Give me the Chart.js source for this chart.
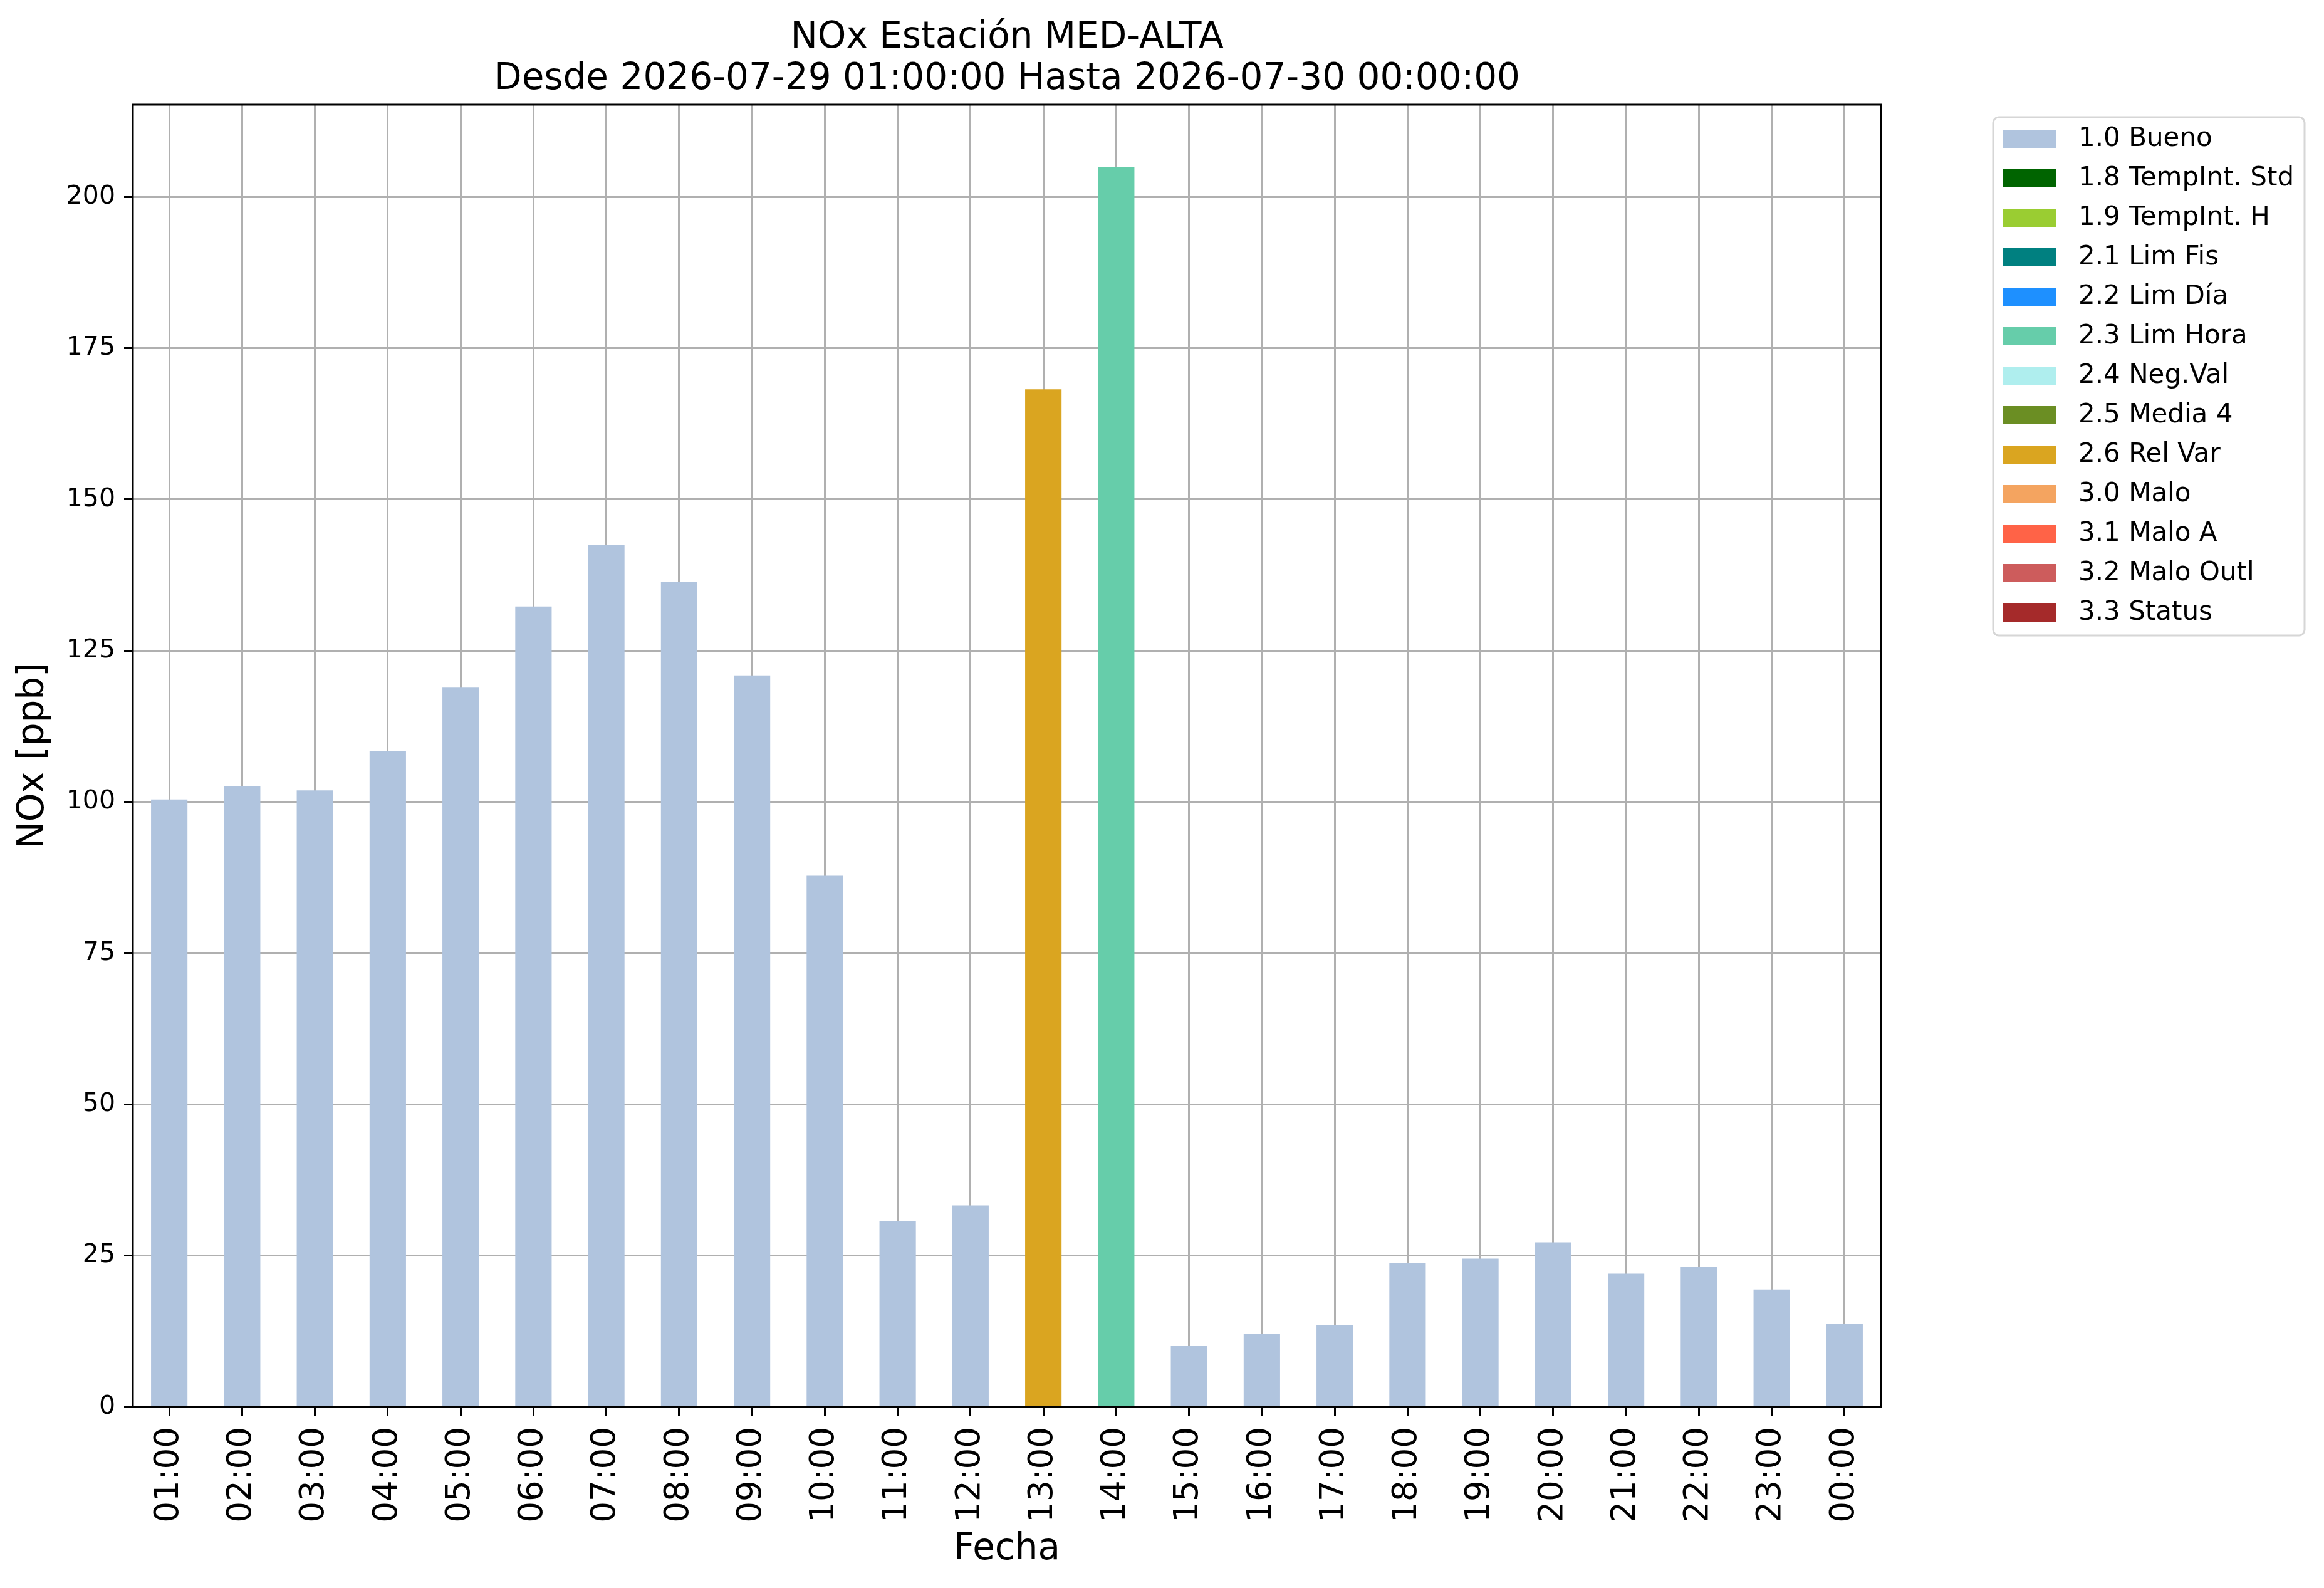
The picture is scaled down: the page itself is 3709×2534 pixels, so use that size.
<!DOCTYPE html>
<html>
<head>
<meta charset="utf-8">
<script src="https://cdn.jsdelivr.net/npm/chart.js@4/dist/chart.umd.min.js"></script>
<style>
  html, body { margin: 0; padding: 0; background: #fff; }
  canvas { display: block; }
</style>
</head>
<body>
<canvas id="grafico" width="3709" height="2534"></canvas>
<script>
// datos del gráfico
const horas = ["01:00", "02:00", "03:00", "04:00", "05:00", "06:00", "07:00", "08:00",
    "09:00", "10:00", "11:00", "12:00", "13:00", "14:00", "15:00", "16:00",
    "17:00", "18:00", "19:00", "20:00", "21:00", "22:00", "23:00", "00:00"];
const valores = [100.4, 102.6, 101.9, 108.4, 118.9, 132.3, 142.5, 136.4,
    120.9, 87.8, 30.7, 33.3, 168.2, 205.0, 10.05, 12.1,
    13.5, 23.8, 24.5, 27.2, 22.0, 23.1, 19.4, 13.7];
const banderas = ["1.0 Bueno", "1.0 Bueno", "1.0 Bueno", "1.0 Bueno", "1.0 Bueno", "1.0 Bueno",
    "1.0 Bueno", "1.0 Bueno", "1.0 Bueno", "1.0 Bueno", "1.0 Bueno", "1.0 Bueno",
    "2.6 Rel Var", "2.3 Lim Hora", "1.0 Bueno", "1.0 Bueno", "1.0 Bueno", "1.0 Bueno",
    "1.0 Bueno", "1.0 Bueno", "1.0 Bueno", "1.0 Bueno", "1.0 Bueno", "1.0 Bueno"];
const categorias = ["1.0 Bueno", "1.8 TempInt. Std", "1.9 TempInt. H", "2.1 Lim Fis",
    "2.2 Lim Día", "2.3 Lim Hora", "2.4 Neg.Val", "2.5 Media 4", "2.6 Rel Var",
    "3.0 Malo", "3.1 Malo A", "3.2 Malo Outl", "3.3 Status"];
const colores = ["#B0C4DE", "#006400", "#9ACD32", "#008080", "#1E90FF", "#66CDAA",
    "#AFEEEE", "#6B8E23", "#DAA520", "#F4A460", "#FF6347", "#CD5C5C", "#A52A2A"];
const ticksY = [0, 25, 50, 75, 100, 125, 150, 175, 200];
const yMax = 215.25;
const titulo = ["NOx Estación MED-ALTA", "Desde 2026-07-29 01:00:00 Hasta 2026-07-30 00:00:00"];

const fuente = "'DejaVu Sans', sans-serif";

const datasets = categorias.map((cat, k) => ({
    label: cat,
    data: valores.map((v, i) => (banderas[i] === cat ? v : null)),
    backgroundColor: colores[k],
    borderWidth: 0,
    barPercentage: 0.5,
    categoryPercentage: 1.0,
}));

// titulo, marco y leyenda dibujados a mano
const extras = {
    id: "extras",
    afterDraw(chart) {
        const ctx = chart.ctx;
        const area = chart.chartArea;
        ctx.save();

        // marco
        ctx.strokeStyle = "#000";
        ctx.lineWidth = 3;
        ctx.strokeRect(area.left, area.top, area.right - area.left, area.bottom - area.top);

        // titulo
        ctx.fillStyle = "#000";
        ctx.font = "58px " + fuente;
        ctx.textAlign = "center";
        ctx.textBaseline = "alphabetic";
        const cx = (area.left + area.right) / 2;
        ctx.fillText(titulo[0], cx, 76);
        ctx.fillText(titulo[1], cx, 142);

        // leyenda
        const lx = area.right + 179;
        const ly = 187;
        const lw = 497;
        const lh = 827;
        ctx.beginPath();
        ctx.roundRect(lx, ly, lw, lh, 9);
        ctx.fillStyle = "#fff";
        ctx.fill();
        ctx.strokeStyle = "#d6d6d6";
        ctx.lineWidth = 3;
        ctx.stroke();

        ctx.font = "42px " + fuente;
        ctx.textAlign = "left";
        ctx.textBaseline = "middle";
        chart.data.datasets.forEach((ds, i) => {
            const yc = ly + 34.5 + i * 63;
            ctx.fillStyle = ds.backgroundColor;
            ctx.fillRect(lx + 16, yc - 14.5, 84, 29);
            ctx.fillStyle = "#000";
            ctx.fillText(ds.label, lx + 136, yc + 1);
        });
        ctx.restore();
    },
};

new Chart(document.getElementById("grafico"), {
    type: "bar",
    data: { labels: horas, datasets: datasets },
    plugins: [extras],
    options: {
        responsive: false,
        animation: false,
        devicePixelRatio: 1,
        layout: { padding: { left: 0, top: 167, right: 707, bottom: 0 } },
        plugins: {
            legend: { display: false },
            title: { display: false },
            tooltip: { enabled: false },
        },
        scales: {
            x: {
                stacked: true,
                z: 1,
                grid: {
                    offset: false,
                    color: "#b0b0b0",
                    lineWidth: 3,
                    tickColor: "#000",
                    tickWidth: 3,
                    tickLength: 14,
                },
                border: { display: false },
                ticks: {
                    color: "#000",
                    font: { family: fuente, size: 53 },
                    minRotation: 90,
                    maxRotation: 90,
                    padding: 18,
                    autoSkip: false,
                },
                title: {
                    display: true,
                    text: "Fecha",
                    color: "#000",
                    font: { family: fuente, size: 58 },
                    padding: { top: 0, bottom: 26 },
                },
                afterFit(scale) {
                    scale.height = 289;
                },
            },
            y: {
                stacked: true,
                z: 1,
                min: 0,
                max: yMax,
                grid: {
                    color: "#b0b0b0",
                    lineWidth: 3,
                    tickColor: "#000",
                    tickWidth: 3,
                    tickLength: 14,
                },
                border: { display: false },
                ticks: {
                    color: "#000",
                    font: { family: fuente, size: 41 },
                    padding: 14,
                    stepSize: 25,
                },
                afterBuildTicks(scale) {
                    scale.ticks = ticksY.map((v) => ({ value: v }));
                },
                title: {
                    display: true,
                    text: "NOx [ppb]",
                    color: "#000",
                    font: { family: fuente, size: 58 },
                    padding: { top: 19, bottom: 0 },
                },
                afterFit(scale) {
                    scale.width = 212;
                },
            },
        },
    },
});
</script>
</body>
</html>
